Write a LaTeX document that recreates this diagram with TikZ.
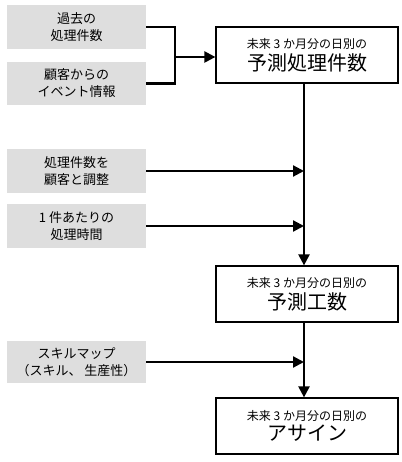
\documentclass[tikz,border=0pt]{standalone}
\usepackage{fontspec}
\setmainfont{Noto Sans CJK JP}
\usetikzlibrary{arrows.meta}
\definecolor{boxgray}{RGB}{222,222,222}
\tikzset{
  inbox/.style={fill=boxgray, minimum width=139pt, inner sep=0pt, align=center,
    font=\fontsize{13}{17}\selectfont},
  outbox/.style={draw, line width=1.2pt, minimum width=182pt, minimum height=56pt,
    inner sep=0pt, align=center},
  link/.style={line width=2.2pt},
  arr/.style={line width=2.2pt, -{Triangle[length=11pt,width=11pt]}}
}
\newcommand{\outtext}[1]{{\fontsize{12}{14}\selectfont 未来 3 か月分の日別の}\\[3pt]{\fontsize{20}{22}\selectfont #1}}
\begin{document}
\begin{tikzpicture}[x=1pt,y=1pt]
\useasboundingbox (0,0) rectangle (401,462);
% inputs
\node[inbox, minimum height=44pt] (past)   at (76.5,435)   {過去の\\処理件数};
\node[inbox, minimum height=43pt] (event)  at (76.5,378.5) {顧客からの\\イベント情報};
\node[inbox, minimum height=44pt] (adjust) at (76.5,291)   {処理件数を\\顧客と調整};
\node[inbox, minimum height=44pt] (time)   at (76.5,236)   {1 件あたりの\\処理時間};
\node[inbox, minimum height=42pt] (skill)  at (76.5,100)   {スキルマップ\\（スキル、 生産性）};
% outputs
\node[outbox] (forecast) at (307,407) {\outtext{予測処理件数}};
\node[outbox] (workload) at (307,168) {\outtext{予測工数}};
\node[outbox] (assign)   at (307,36)  {\outtext{アサイン}};
\coordinate (join)  at (175,405);
\coordinate (trunk) at (304,0);
\draw[link] (past.east) -| (join |- event.east) -- (event.east);
\draw[arr] (join) -- (join -| forecast.west);
\draw[arr] (forecast.south -| trunk) -- (workload.north -| trunk);
\draw[arr] (workload.south -| trunk) -- (assign.north -| trunk);
\draw[arr] (adjust.east) -- (adjust.east -| trunk);
\draw[arr] (time.east) -- (time.east -| trunk);
\draw[arr] (skill.east) -- (skill.east -| trunk);
\end{tikzpicture}
\end{document}
